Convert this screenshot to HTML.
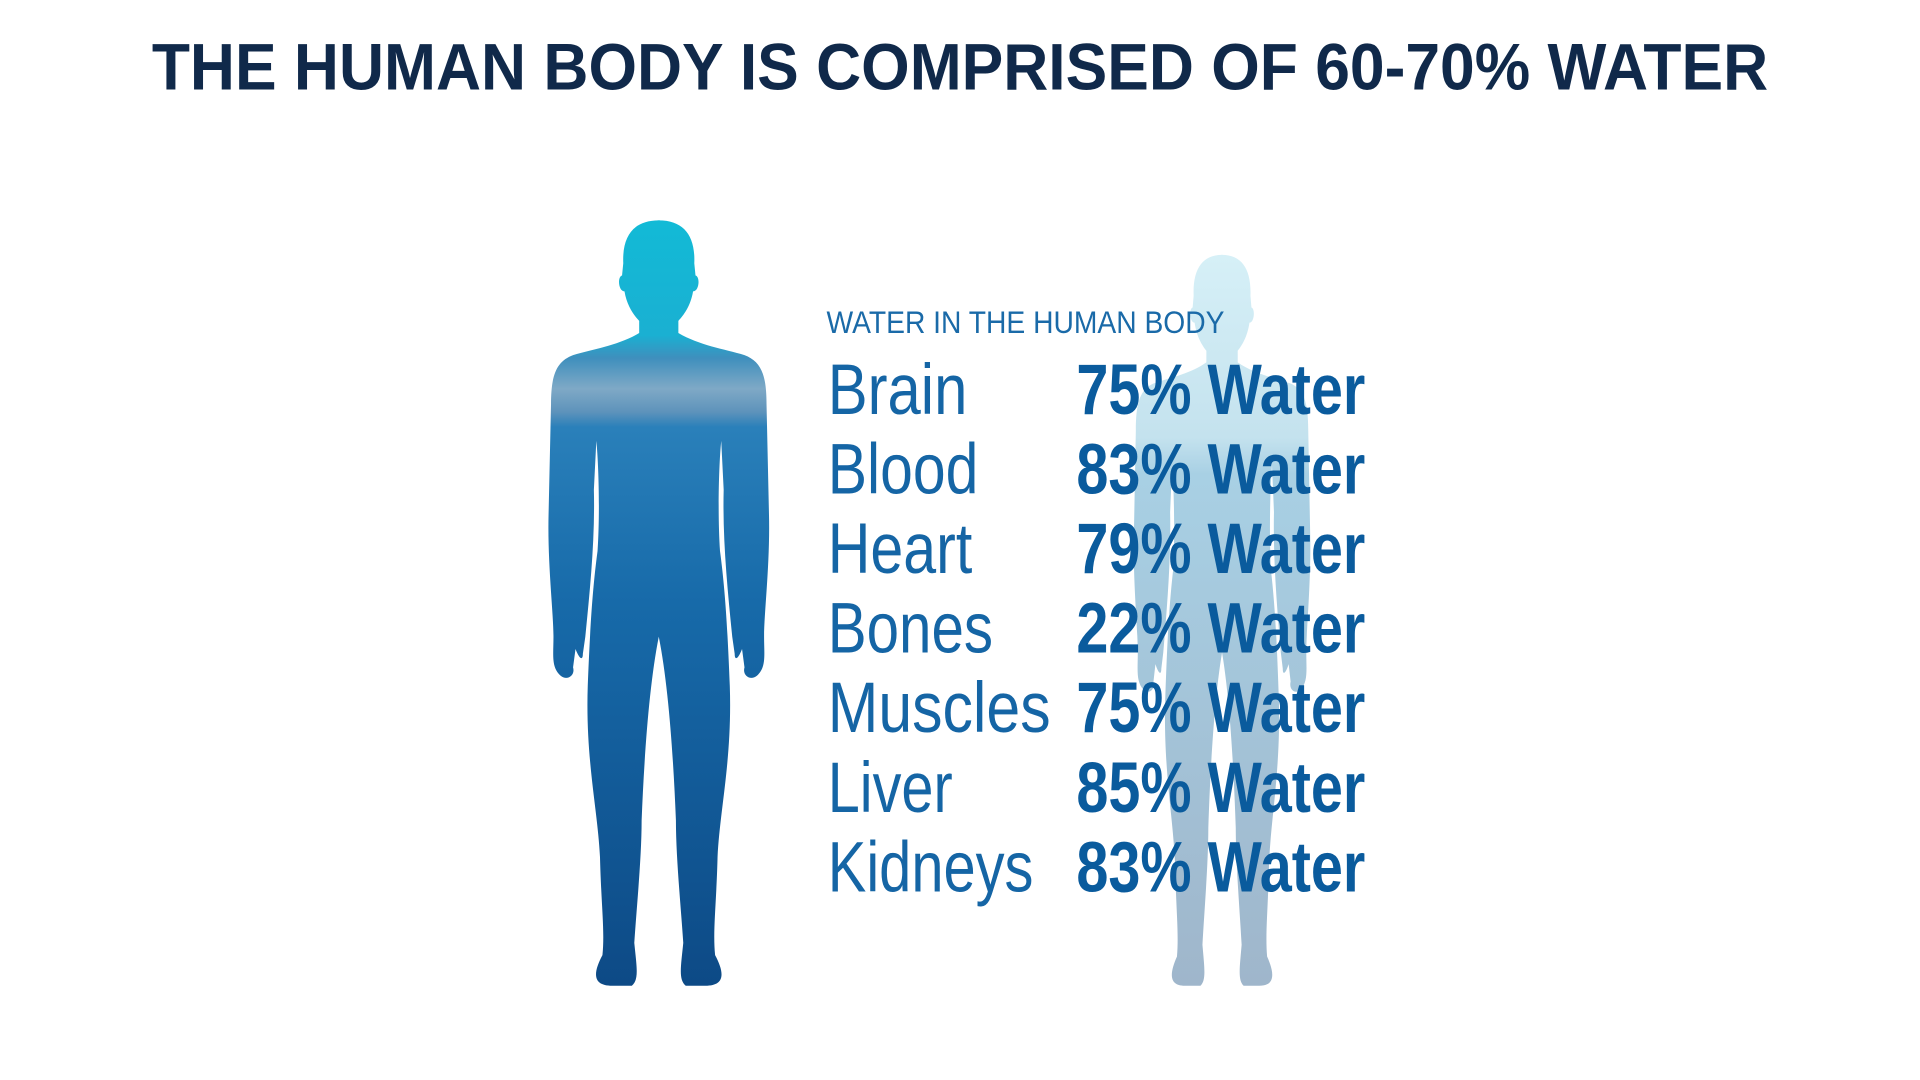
<!DOCTYPE html>
<html><head><meta charset="utf-8"><style>
html,body{margin:0;padding:0;background:#fff;width:1920px;height:1080px;overflow:hidden}
svg{display:block}
</style></head><body>
<svg width="1920" height="1080" viewBox="0 0 1568 882" xmlns="http://www.w3.org/2000/svg">
<defs>
<linearGradient id="mg" gradientUnits="userSpaceOnUse" x1="0" y1="180" x2="0" y2="805">
<stop offset="0" stop-color="#12bad6"/>
<stop offset="0.15" stop-color="#1ab0d2"/>
<stop offset="0.18" stop-color="#3f8fbd"/>
<stop offset="0.22" stop-color="#7fa9c6"/>
<stop offset="0.25" stop-color="#5e93bb"/>
<stop offset="0.27" stop-color="#2a80ba"/>
<stop offset="0.5" stop-color="#176aa9"/>
<stop offset="1" stop-color="#0d4a86"/>
</linearGradient>
<linearGradient id="wg" gradientUnits="userSpaceOnUse" x1="0" y1="180" x2="0" y2="805">
<stop offset="0" stop-color="#d6f0f7"/>
<stop offset="0.25" stop-color="#c4e2ee"/>
<stop offset="0.3" stop-color="#a8d0e4"/>
<stop offset="1" stop-color="#9fb6cb"/>
</linearGradient>
<path id="half" d="M539,180 L538,180 C518,180 508,192 509,215 L508,225 C504,226 505,238 510,238 C512,250 518,258 522,262 L522,272 C505,282 485,285 468,290 C455,295 450,305 450,330 L448,420 C447,460 452,500 452,520 C452,535 450,545 458,552 C463,556 470,552 468,545 L470,530 C473,538 476,540 476,534 L478,520 C482,480 486,440 485,400 L487,360 C489,380 490,420 488,450 C484,480 482,510 480,560 C478,620 488,660 490,700 C491,740 494,760 492,780 C484,795 484,805 500,805 L516,805 C522,800 520,790 518,770 C520,740 524,700 524,670 C526,620 530,560 538,520 L539,520 Z"/>
</defs>
<text x="784" y="73" text-anchor="middle" font-family="Liberation Sans, sans-serif" font-weight="bold" font-size="54" fill="#10294a" textLength="1320" lengthAdjust="spacingAndGlyphs">THE HUMAN BODY IS COMPRISED OF 60-70% WATER</text>

<g fill="url(#mg)">
<use href="#half"/>
<use href="#half" transform="translate(1076,0) scale(-1,1)"/>
</g>
<g fill="url(#wg)" transform="translate(998,805) scale(0.8,0.955) translate(-538,-805)">
<use href="#half"/>
<use href="#half" transform="translate(1076,0) scale(-1,1)"/>
</g>

<g font-family="Liberation Sans, sans-serif">
<text x="675" y="272" font-size="26" fill="#1a6aa8" textLength="325" lengthAdjust="spacingAndGlyphs">WATER IN THE HUMAN BODY</text>
<g font-size="58" fill="#1565a5">
<text x="676" y="338" textLength="114" lengthAdjust="spacingAndGlyphs">Brain</text>
<text x="676" y="403" textLength="123" lengthAdjust="spacingAndGlyphs">Blood</text>
<text x="676" y="468" textLength="118" lengthAdjust="spacingAndGlyphs">Heart</text>
<text x="676" y="533" textLength="135" lengthAdjust="spacingAndGlyphs">Bones</text>
<text x="676" y="598" textLength="182" lengthAdjust="spacingAndGlyphs">Muscles</text>
<text x="676" y="663" textLength="102" lengthAdjust="spacingAndGlyphs">Liver</text>
<text x="676" y="728" textLength="168" lengthAdjust="spacingAndGlyphs">Kidneys</text>
</g>
<g font-size="58" font-weight="bold" fill="#0a5b9d">
<text x="879" y="338" textLength="236" lengthAdjust="spacingAndGlyphs">75% Water</text>
<text x="879" y="403" textLength="236" lengthAdjust="spacingAndGlyphs">83% Water</text>
<text x="879" y="468" textLength="236" lengthAdjust="spacingAndGlyphs">79% Water</text>
<text x="879" y="533" textLength="236" lengthAdjust="spacingAndGlyphs">22% Water</text>
<text x="879" y="598" textLength="236" lengthAdjust="spacingAndGlyphs">75% Water</text>
<text x="879" y="663" textLength="236" lengthAdjust="spacingAndGlyphs">85% Water</text>
<text x="879" y="728" textLength="236" lengthAdjust="spacingAndGlyphs">83% Water</text>
</g>
</g>
</svg>
</body></html>
